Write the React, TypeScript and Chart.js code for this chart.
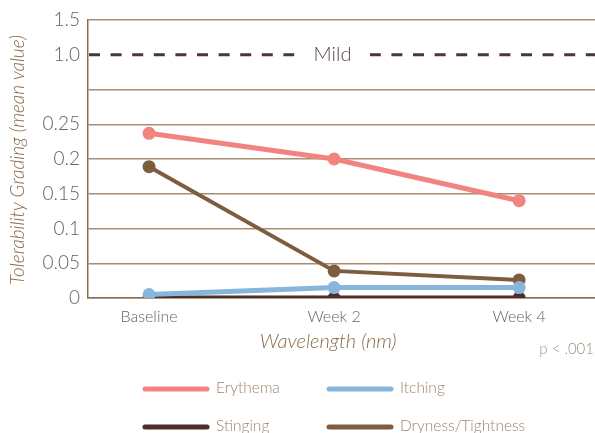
import React, { useEffect, useRef } from "react";
import { Chart, registerables } from "chart.js";

Chart.register(...registerables);

const categories = ["Baseline", "Week 2", "Week 4"];
const erythema = [0.237, 0.2, 0.14];
const itching = [0.005, 0.015, 0.015];
const stinging = [0, 0, 0];
const dryness = [0.189, 0.039, 0.026];

const yTickValues = [0, 0.05, 0.1, 0.15, 0.2, 0.25, 0.3, 0.35, 0.4];
const yTickLabels = ["0", "0.05", "0.1", "0.15", "0.2", "0.25", "", "1.0", "1.5"];
const mildSlot = 0.35;
const mildLabel = "Mild";
const xTitle = "Wavelength (nm)";
const yTitle = "Tolerability Grading (mean value)";
const pNote = "p < .001";

const FONT = "Lato, 'Open Sans', sans-serif";
const GRID = "#a78e72";
const AXIS = "#8c6e52";
const TICK = "#6a605e";
const TITLE = "#8a6a48";
const LEGEND_TEXT = "#9c8573";

const colors = {
  erythema: "#f2847f",
  itching: "#88b5db",
  stinging: "#4a2f2b",
  dryness: "#7d5d3e",
};

const overlay = {
  id: "overlay",
  beforeDatasetsDraw(chart: any) {
    const { ctx, chartArea } = chart;
    const ys = chart.scales.y;
    const y = ys.getPixelForValue(mildSlot);
    const cx = (chartArea.left + chartArea.right) / 2 - 9;
    ctx.save();
    ctx.strokeStyle = "#4d3636";
    ctx.lineWidth = 3;
    ctx.setLineDash([11, 10.6]);
    ctx.lineDashOffset = -1;
    ctx.beginPath();
    ctx.moveTo(chartArea.left, y);
    ctx.lineTo(chartArea.right, y);
    ctx.stroke();
    ctx.setLineDash([]);
    ctx.fillStyle = "#ffffff";
    ctx.fillRect(cx - 38, y - 4, 75, 8);
    ctx.fillStyle = "#5a4646";
    ctx.font = `300 20px ${FONT}`;
    ctx.textAlign = "center";
    ctx.textBaseline = "middle";
    ctx.fillText(mildLabel, cx, y);
    ctx.restore();
  },
  afterDraw(chart: any) {
    const { ctx, chartArea } = chart;
    const xs = chart.scales.x;
    ctx.save();
    // x title
    ctx.fillStyle = TITLE;
    ctx.font = `italic 300 20px ${FONT}`;
    ctx.textAlign = "center";
    ctx.textBaseline = "middle";
    const cx = (xs.getPixelForValue(0) + xs.getPixelForValue(2)) / 2 - 6;
    ctx.fillText(xTitle, cx, 342);
    // y title
    ctx.save();
    ctx.translate(18, (chartArea.top + chartArea.bottom) / 2 + 1);
    ctx.rotate(-Math.PI / 2);
    ctx.font = `italic 300 19px ${FONT}`;
    ctx.fillText(yTitle, 0, 0);
    ctx.restore();
    // p value
    ctx.fillStyle = "#a09083";
    ctx.font = `300 15px ${FONT}`;
    ctx.textAlign = "right";
    ctx.fillText(pNote, 594, 349);
    // legend
    const cols = [143, 327];
    const rows = [389, 427];
    chart.data.datasets.forEach((ds: any, i: number) => {
      const x = cols[i % 2];
      const yy = rows[Math.floor(i / 2)];
      ctx.strokeStyle = ds.borderColor;
      ctx.lineWidth = 5;
      ctx.lineCap = "round";
      ctx.beginPath();
      ctx.moveTo(x + 2, yy);
      ctx.lineTo(x + 64, yy);
      ctx.stroke();
      ctx.fillStyle = LEGEND_TEXT;
      ctx.font = `300 15.5px ${FONT}`;
      ctx.textAlign = "left";
      ctx.fillText(ds.label, x + 73, yy - 1);
    });
    ctx.restore();
  },
};

export default function App() {
  const ref = useRef<HTMLCanvasElement | null>(null);
  useEffect(() => {
    if (!ref.current) return;
    const mk = (label: string, values: number[], color: string, order: number, bw: number) => ({
      label,
      data: values.map((v, i) => ({ x: i, y: v })),
      borderColor: color,
      backgroundColor: color,
      pointBackgroundColor: color,
      pointBorderColor: color,
      borderWidth: bw,
      pointRadius: 6.5,
      pointBorderWidth: 0,
      tension: 0,
      order,
    });
    const chart = new Chart(ref.current, {
      type: "line",
      data: {
        datasets: [
          mk("Erythema", erythema, colors.erythema, 1, 5),
          mk("Itching", itching, colors.itching, 0, 5),
          mk("Stinging", stinging, colors.stinging, 3, 5),
          mk("Dryness/Tightness", dryness, colors.dryness, 2, 4),
        ],
      },
      options: {
        animation: false,
        responsive: true,
        maintainAspectRatio: false,
        layout: { autoPadding: false, padding: { top: 20, right: 0, left: 0, bottom: 73 } },
        plugins: { legend: { display: false }, tooltip: { enabled: false } },
        scales: {
          x: {
            type: "linear",
            min: -0.33,
            max: 2.41,
            afterBuildTicks: (s: any) => {
              s.ticks = categories.map((_, i) => ({ value: i }));
            },
            afterFit: (s: any) => {
              s.height = 62;
              s.paddingLeft = 0;
              s.paddingRight = 0;
            },
            grid: { display: false, drawTicks: false },
            border: { color: AXIS, width: 1.5 },
            ticks: {
              padding: 9,
              color: TICK,
              font: { family: FONT, size: 16, weight: "300" },
              callback: (v: any) => categories[Math.round(Number(v))] ?? "",
            },
          },
          y: {
            min: 0,
            max: 0.4,
            afterBuildTicks: (s: any) => {
              s.ticks = yTickValues.map((v) => ({ value: v }));
            },
            afterFit: (s: any) => {
              s.width = 88;
            },
            grid: {
              drawTicks: false,
              lineWidth: 1.5,
              color: (c: any) => (c.tick && c.tick.value === mildSlot ? "rgba(0,0,0,0)" : GRID),
            },
            border: { color: AXIS, width: 1.5 },
            ticks: {
              padding: 8,
              color: TICK,
              font: { family: FONT, size: 19, weight: "300" },
              callback: (v: any, i: number) => yTickLabels[i] ?? "",
            },
          },
        },
      },
      plugins: [overlay],
    });
    return () => chart.destroy();
  }, []);
  return (
    <div style={{ position: "absolute", left: 0, top: 0, width: 595, height: 433, background: "#fff" }}>
      <canvas ref={ref} />
    </div>
  );
}
